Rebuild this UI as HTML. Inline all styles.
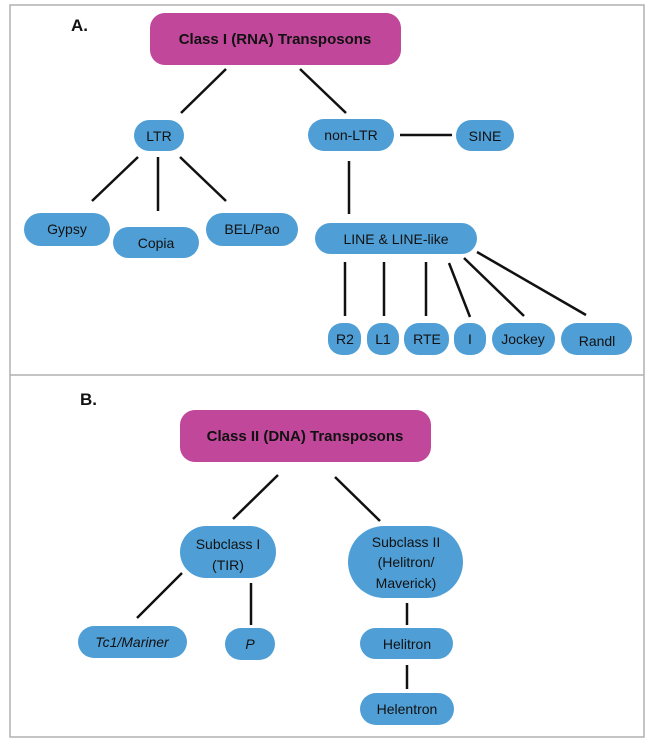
<!DOCTYPE html>
<html><head><meta charset="utf-8"><style>
html,body{margin:0;padding:0;background:#fff;}
svg{display:block;}
text{font-family:"Liberation Sans",sans-serif;}
</style></head><body>
<svg width="648" height="742" viewBox="0 0 648 742">
<rect x="10" y="5" width="634" height="732" fill="none" stroke="#b0b0b0" stroke-width="1.5"/>
<line x1="10" y1="375" x2="644" y2="375" stroke="#b0b0b0" stroke-width="1.5"/>
<g stroke="#111" stroke-width="2.5" stroke-linecap="butt">
<line x1="226" y1="69" x2="181" y2="113"/>
<line x1="300" y1="69" x2="346" y2="113"/>
<line x1="400" y1="135" x2="452" y2="135"/>
<line x1="138" y1="157" x2="92" y2="201"/>
<line x1="158" y1="157" x2="158" y2="211"/>
<line x1="180" y1="157" x2="226" y2="201"/>
<line x1="349" y1="161" x2="349" y2="214"/>
<line x1="345" y1="262" x2="345" y2="316"/>
<line x1="384" y1="262" x2="384" y2="316"/>
<line x1="426" y1="262" x2="426" y2="316"/>
<line x1="449" y1="263" x2="470" y2="317"/>
<line x1="464" y1="258" x2="524" y2="316"/>
<line x1="477" y1="252" x2="586" y2="315"/>
<line x1="278" y1="475" x2="233" y2="519"/>
<line x1="335" y1="477" x2="380" y2="521"/>
<line x1="182" y1="573" x2="137" y2="618"/>
<line x1="251" y1="583" x2="251" y2="625"/>
<line x1="407" y1="603" x2="407" y2="625"/>
<line x1="407" y1="665" x2="407" y2="689"/>
</g>
<g fill="#c0479a">
<rect x="150" y="13" width="251" height="52" rx="15"/>
<rect x="180" y="410" width="251" height="52" rx="15"/>
</g>
<g fill="#4f9fd6">
<rect x="134" y="120" width="50" height="31" rx="15.5"/>
<rect x="308" y="119" width="86" height="32" rx="16"/>
<rect x="456" y="120" width="58" height="31" rx="15.5"/>
<rect x="24" y="213" width="86" height="33" rx="16.5"/>
<rect x="113" y="227" width="86" height="31" rx="15.5"/>
<rect x="206" y="213" width="92" height="33" rx="16.5"/>
<rect x="315" y="223" width="162" height="31" rx="15.5"/>
<rect x="328" y="323" width="33" height="32" rx="14"/>
<rect x="367" y="323" width="32" height="32" rx="14"/>
<rect x="404" y="323" width="45" height="32" rx="15"/>
<rect x="454" y="323" width="32" height="32" rx="14"/>
<rect x="492" y="323" width="63" height="32" rx="16"/>
<rect x="561" y="323" width="71" height="32" rx="16"/>
<rect x="180" y="526" width="96" height="52" rx="26"/>
<rect x="348" y="526" width="115" height="72" rx="36"/>
<rect x="78" y="626" width="109" height="32" rx="16"/>
<rect x="225" y="628" width="50" height="32" rx="16"/>
<rect x="360" y="628" width="93" height="31" rx="15.5"/>
<rect x="360" y="693" width="94" height="32" rx="16"/>
</g>
<g font-size="14" fill="#111" text-anchor="middle">
<text x="71" y="31" font-size="17" font-weight="bold" text-anchor="start" x="63">A.</text>
<text x="80" y="405" font-size="17" font-weight="bold" text-anchor="start">B.</text>
<text x="275" y="44" font-size="15" font-weight="bold">Class I (RNA) Transposons</text>
<text x="305" y="441" font-size="15" font-weight="bold">Class II (DNA) Transposons</text>
<text x="159" y="141">LTR</text>
<text x="351" y="140">non-LTR</text>
<text x="485" y="141">SINE</text>
<text x="67" y="234">Gypsy</text>
<text x="156" y="248">Copia</text>
<text x="252" y="234">BEL/Pao</text>
<text x="396" y="244">LINE &amp; LINE-like</text>
<text x="345" y="344">R2</text>
<text x="383" y="344">L1</text>
<text x="427" y="344">RTE</text>
<text x="470" y="344">I</text>
<text x="523" y="344">Jockey</text>
<text x="597" y="346">Randl</text>
<text x="228" y="549">Subclass I</text>
<text x="228" y="570">(TIR)</text>
<text x="406" y="547">Subclass II</text>
<text x="406" y="567">(Helitron/</text>
<text x="406" y="588">Maverick)</text>
<text x="132" y="647" font-style="italic">Tc1/Mariner</text>
<text x="250" y="649" font-style="italic">P</text>
<text x="407" y="649">Helitron</text>
<text x="407" y="714">Helentron</text>
</g>
</svg>
</body></html>
